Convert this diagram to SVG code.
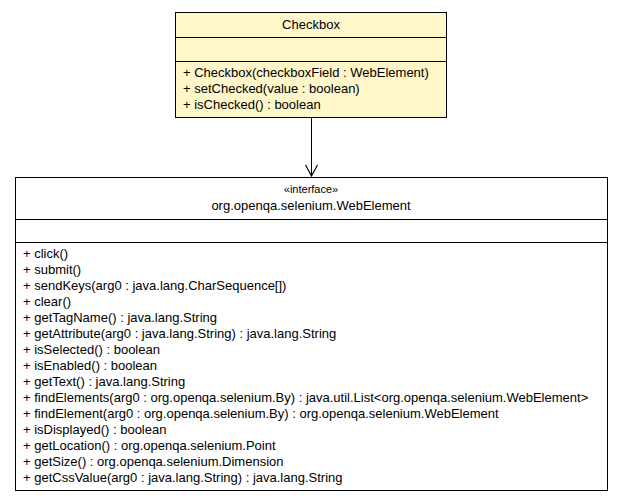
<svg xmlns="http://www.w3.org/2000/svg" width="621" height="501" viewBox="0 0 621 501">
<style>
text{font-family:"Liberation Sans",Arial,sans-serif;font-size:13px;fill:#000}
.c{text-anchor:middle}
.b{stroke:#000;stroke-width:1}
</style>
<defs><marker id="a" markerWidth="14" markerHeight="14" refX="12" refY="7" orient="auto" markerUnits="userSpaceOnUse"><path d="M1,1 L12,7 L1,13" fill="none" stroke="#000" stroke-width="1.2"/></marker></defs>
<rect width="621" height="501" fill="#fff"/>
<g id="checkbox">
<rect class="b" x="175.5" y="12.5" width="271" height="105" fill="#fff6c9"/>
<line class="b" x1="175.5" y1="37.5" x2="446.5" y2="37.5"/>
<line class="b" x1="175.5" y1="61.5" x2="446.5" y2="61.5"/>
<text class="c" x="311" y="29">Checkbox</text>
<text x="183" y="77">+ Checkbox(checkboxField : WebElement)</text>
<text x="183" y="93">+ setChecked(value : boolean)</text>
<text x="183" y="109">+ isChecked() : boolean</text>
</g>
<g id="webelement">
<rect class="b" x="15.5" y="177.5" width="592" height="313" fill="#fff"/>
<line class="b" x1="15.5" y1="219.5" x2="607.5" y2="219.5"/>
<line class="b" x1="15.5" y1="242.5" x2="607.5" y2="242.5"/>
<text class="c" x="311" y="193" style="font-size:11px">«interface»</text>
<text class="c" x="311" y="210">org.openqa.selenium.WebElement</text>
<text x="23" y="258">+ click()</text>
<text x="23" y="274">+ submit()</text>
<text x="23" y="290">+ sendKeys(arg0 : java.lang.CharSequence[])</text>
<text x="23" y="306">+ clear()</text>
<text x="23" y="322">+ getTagName() : java.lang.String</text>
<text x="23" y="338">+ getAttribute(arg0 : java.lang.String) : java.lang.String</text>
<text x="23" y="354">+ isSelected() : boolean</text>
<text x="23" y="370">+ isEnabled() : boolean</text>
<text x="23" y="386">+ getText() : java.lang.String</text>
<text x="23" y="402">+ findElements(arg0 : org.openqa.selenium.By) : java.util.List&lt;org.openqa.selenium.WebElement&gt;</text>
<text x="23" y="418">+ findElement(arg0 : org.openqa.selenium.By) : org.openqa.selenium.WebElement</text>
<text x="23" y="434">+ isDisplayed() : boolean</text>
<text x="23" y="450">+ getLocation() : org.openqa.selenium.Point</text>
<text x="23" y="466">+ getSize() : org.openqa.selenium.Dimension</text>
<text x="23" y="482">+ getCssValue(arg0 : java.lang.String) : java.lang.String</text>
</g>
<g id="connectors">
<line class="b" x1="311.5" y1="118" x2="311.5" y2="176" marker-end="url(#a)"/>
</g>
</svg>
